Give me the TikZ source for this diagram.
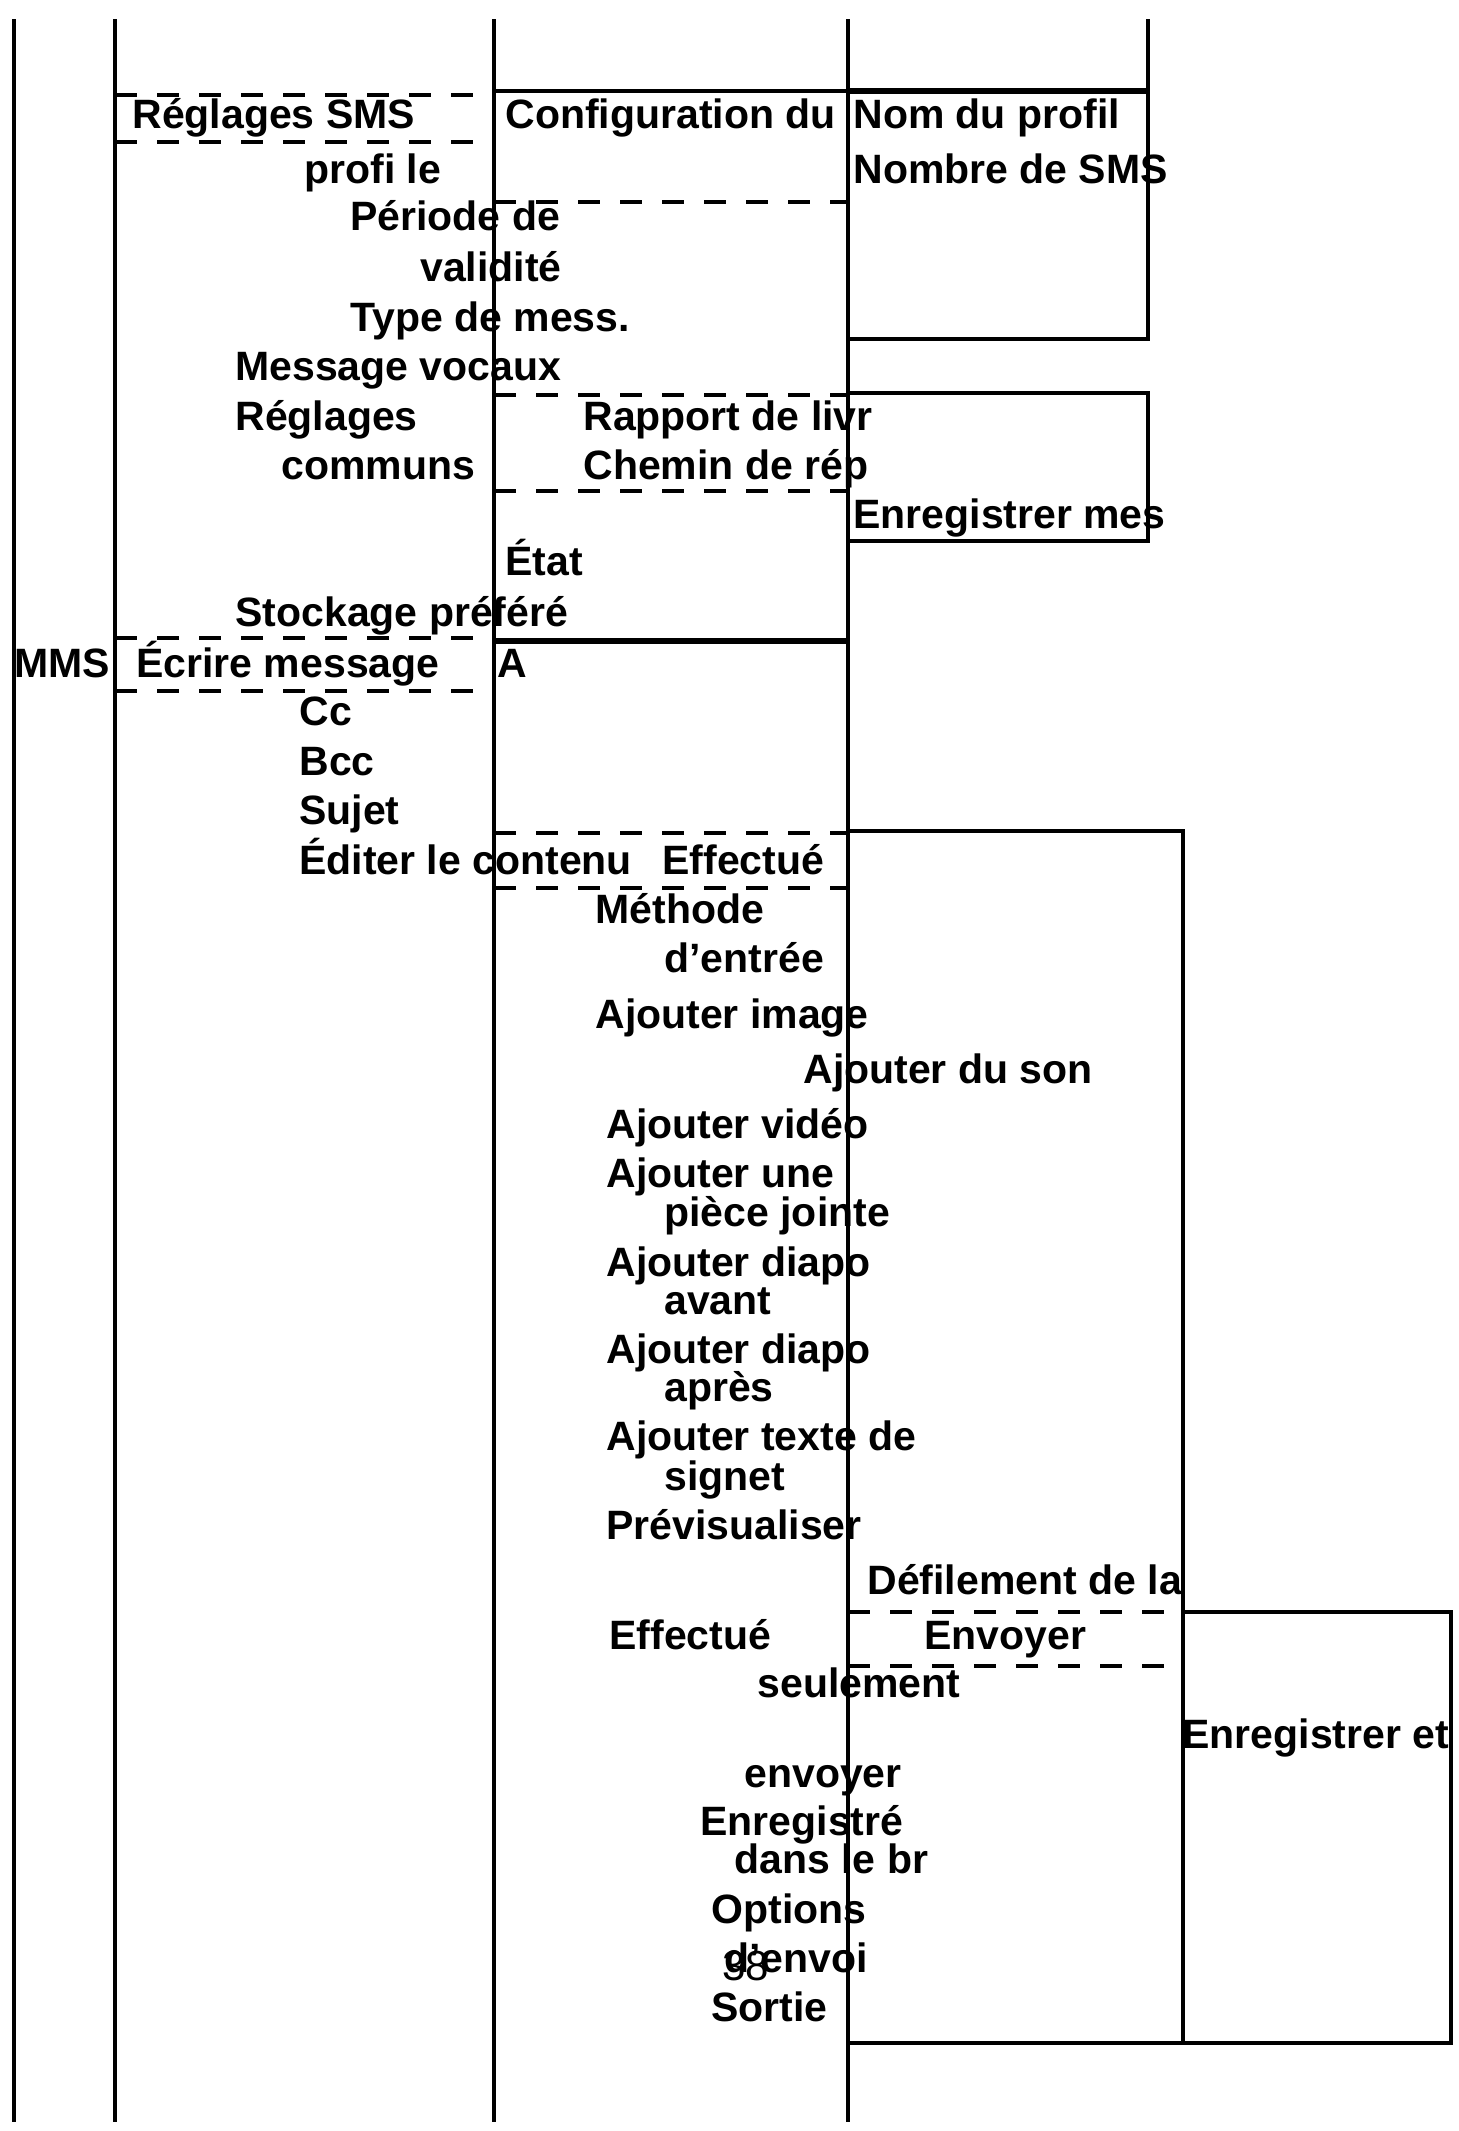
\documentclass[tikz,border=0pt]{standalone}
\usepackage{fontspec}
\setmainfont{Liberation Sans}
\begin{document}
\begin{tikzpicture}[x=0.5pt,y=-0.5pt,
  lbl/.style={anchor=base west,inner sep=0pt,font=\fontsize{20.5}{24}\selectfont\bfseries},
  num/.style={anchor=base west,inner sep=0pt,font=\fontsize{21}{24}\selectfont},
  thin/.style={line width=1.7pt},
  mid/.style={line width=2.3pt},
  heavy/.style={line width=3.2pt},
  dsh/.style={line width=2pt,dash pattern=on 11pt off 10pt}]
\fill[white] (0,0) rectangle (1459,2131);
\useasboundingbox (0,0) rectangle (1459,2131);
% vertical lines
\draw[thin] (14,19) -- (14,2122);
\draw[thin] (115,19) -- (115,2122);
\draw[thin] (494,19) -- (494,2122);
\draw[mid] (848,19) -- (848,2122);
\draw[thin] (1148,19) -- (1148,339) -- (848,339);
% top horizontal lines
\draw[thin] (494,91) -- (848,91);
\draw[heavy] (848,91) -- (1148,91);
% Reglages SMS dashed box
\draw[dsh] (115,95) -- (494,95);
\draw[dsh] (115,142) -- (494,142);
\draw[dsh] (494,202) -- (848,202);
\draw[dsh] (494,395) -- (848,395);
\draw[dsh] (494,491) -- (848,491);
% Rapport box
\draw[thin] (848,393) rectangle (1148,541);
% Ecrire message
\draw[heavy] (494,641) -- (848,641);
\draw[dsh] (115,638) -- (494,638);
\draw[dsh] (115,691) -- (494,691);
% Effectue dashed
\draw[dsh] (494,833) -- (848,833);
\draw[dsh] (494,888) -- (848,888);
% big box
\draw[thin] (848,831) rectangle (1183,2043);
% Envoyer dashed
\draw[dsh] (848,1612) -- (1183,1612);
\draw[dsh] (848,1666) -- (1183,1666);
% Enregistrer et box
\draw[thin] (1183,1612) rectangle (1451,2043);
% texts
\node[lbl] (t1) at (132,128) {Réglages SMS};
\node[lbl] (t2) at (304,183) {profi le};
\node[lbl] (t3) at (350,230) {Période de};
\node[lbl] (t4) at (420,281) {validité};
\node[lbl] (t5) at (350,331) {Type de mess.};
\node[lbl] (t6) at (235,380) {Message vocaux};
\node[lbl] (t7) at (235,430) {Réglages};
\node[lbl] (t8) at (281,479) {communs};
\node[lbl] (t9) at (505,575) {État};
\node[lbl] (t10) at (235,626) {Stockage préféré};
\node[lbl] (t11) at (14,677) {MMS};
\node[lbl] (t12) at (136,677) {Écrire message};
\node[lbl] (t13) at (497,677) {A};
\node[lbl] (t14) at (299,725) {Cc};
\node[lbl] (t15) at (299,775) {Bcc};
\node[lbl] (t16) at (299,824) {Sujet};
\node[lbl] (t17) at (299,874) {Éditer le contenu};
\node[lbl] (t18) at (662,874) {Effectué};
\node[lbl] (t19) at (595,923) {Méthode};
\node[lbl] (t20) at (664,972) {d’entrée};
\node[lbl] (t21) at (595,1028) {Ajouter image};
\node[lbl] (t22) at (803,1083) {Ajouter du son};
\node[lbl] (t23) at (606,1138) {Ajouter vidéo};
\node[lbl] (t24) at (606,1187) {Ajouter une};
\node[lbl] (t25) at (664,1226) {pièce jointe};
\node[lbl] (t26) at (606,1276) {Ajouter diapo};
\node[lbl] (t27) at (664,1314) {avant};
\node[lbl] (t28) at (606,1363) {Ajouter diapo};
\node[lbl] (t29) at (664,1401) {après};
\node[lbl] (t30) at (606,1450) {Ajouter texte de};
\node[lbl] (t31) at (664,1490) {signet};
\node[lbl] (t32) at (606,1539) {Prévisualiser};
\node[lbl] (t33) at (867,1594) {Défilement de la};
\node[lbl] (t34) at (609,1649) {Effectué};
\node[lbl] (t35) at (924,1649) {Envoyer};
\node[lbl] (t36) at (757,1697) {seulement};
\node[lbl] (t37) at (1182,1748) {Enregistrer et};
\node[lbl] (t38) at (744,1787) {envoyer};
\node[lbl] (t39) at (700,1835) {Enregistré};
\node[lbl] (t40) at (734,1873) {dans le br};
\node[lbl] (t41) at (711,1923) {Options};
\node[lbl] (t42) at (724,1972) {d’envoi};
\node[num] (t42b) at (722,1980) {38};
\node[lbl] (t43) at (711,2021) {Sortie};
\node[lbl] (t44) at (505,128) {Configuration du};
\node[lbl] (t45) at (853,128) {Nom du profil};
\node[lbl] (t46) at (853,183) {Nombre de SMS};
\node[lbl] (t47) at (583,430) {Rapport de livr};
\node[lbl] (t48) at (583,479) {Chemin de rép};
\node[lbl] (t49) at (853,528) {Enregistrer mes};
\end{tikzpicture}
\end{document}
